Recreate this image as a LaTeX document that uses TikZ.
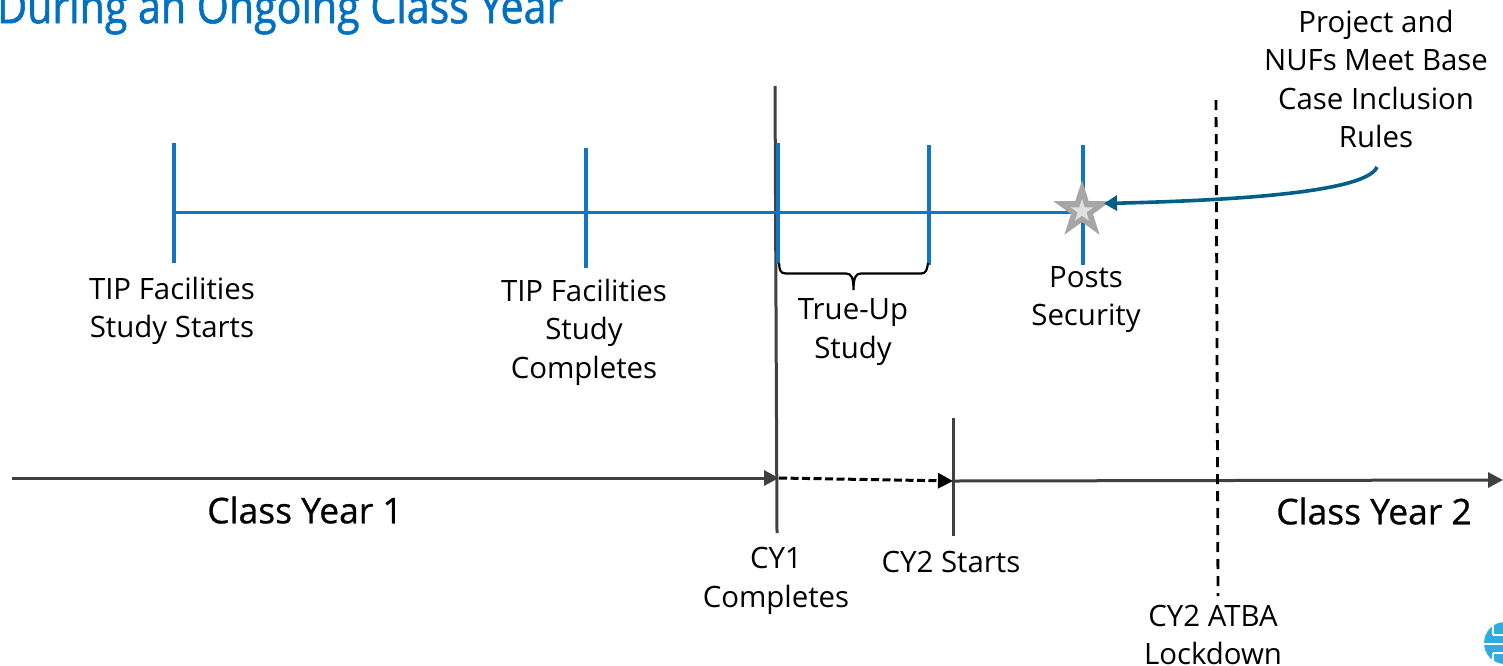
\documentclass[tikz,border=0pt]{standalone}
\usepackage{fontspec}
\setmainfont{Open Sans}
\newfontfamily\titlefont[FakeStretch=0.875,RawFeature={embolden=1.2}]{Open Sans}
\newfontfamily\bigfont[RawFeature={embolden=0.7}]{Open Sans}
\usetikzlibrary{arrows.meta,shapes.geometric}
\definecolor{tlblue}{HTML}{0F75C4}
\definecolor{titleblue}{HTML}{0070C0}
\definecolor{axisgray}{HTML}{404040}
\definecolor{teal}{HTML}{005F86}
\definecolor{logoblue}{HTML}{2FADE0}
\tikzset{
  x=1pt,y=-1pt,
  lbl/.style={align=center,font=\fontsize{29.4}{38.5}\selectfont,text=black,inner sep=0pt},
  bigl/.style={font=\bigfont\fontsize{35.4}{40}\selectfont,text=black,inner sep=0pt,anchor=center},
  tick/.style={draw=tlblue,line width=3.8pt},
  tline/.style={draw=tlblue,line width=3pt},
  axis/.style={draw=axisgray,line width=3pt},
  axtip/.style={-{Triangle[length=15pt,width=15pt]}},
}
\begin{document}
\begin{tikzpicture}
\useasboundingbox (0,0) rectangle (1503,665);
\clip (0,0) rectangle (1503,665);
\fill[white] (0,0) rectangle (1503,665);
% title
\node[anchor=west,inner sep=0pt,text=titleblue,font=\titlefont\fontsize{47}{50}\selectfont] (title) at (-3,11) {During an Ongoing Class Year};
% logo
\fill[logoblue] (1505,643) circle (21);
\draw[white,line width=1.6pt] (1484,644) -- (1503,644) (1493,635) -- (1503,635) (1493,635) -- (1493,622) (1493,653) -- (1503,653) (1493,653) -- (1493,664);
% coordinates
\coordinate (a1) at (174,143); \coordinate (a2) at (174,263);
\coordinate (b1) at (586,148); \coordinate (b2) at (586,268);
\coordinate (c1) at (778,143); \coordinate (c2) at (778,264);
\coordinate (d1) at (929,145); \coordinate (d2) at (929,265);
\coordinate (e1) at (1083,145); \coordinate (e2) at (1083,265);
\coordinate (tlS) at (174,212); \coordinate (tlE) at (1083,212);
\coordinate (v1a) at (775,86); \coordinate (v1b) at (777,533);
\coordinate (v2a) at (953,418); \coordinate (v2b) at (953,536);
\coordinate (ax1s) at (12,478); \coordinate (ax1e) at (779,478);
\coordinate (ax2s) at (953,481); \coordinate (ax2e) at (1503,480);
\coordinate (dash1) at (779,478); \coordinate (dash2) at (953,481);
\coordinate (lock1) at (1216,100); \coordinate (lock2) at (1218,596);
% axis verticals
\draw[axis] (v1a) -- (v1b);
\draw[axis] (v2a) -- (v2b);
% timeline
\draw[tline] (tlS) -- (tlE);
\draw[tick] (a1) -- (a2);
\draw[tick] (b1) -- (b2);
\draw[tick] (c1) -- (c2);
\draw[tick] (d1) -- (d2);
\draw[tick] (e1) -- (e2);
% axes
\draw[axis,axtip] (ax1s) -- (ax1e);
\draw[axis,axtip] (ax2s) -- (ax2e);
\draw[black,line width=3pt,dash pattern=on 8pt off 3.5pt,axtip] (dash1) -- (dash2);
% lockdown
\draw[black,line width=2.8pt,dash pattern=on 10pt off 7pt] (lock1) -- (lock2);
% brace
\coordinate (br1) at (779,263); \coordinate (br2) at (928,263);
\coordinate (brm) at (853.5,290);
\draw[black,line width=2.2pt,line join=round] (br1) .. controls (779.5,270) and (780,273.5) .. (786,273.5) -- (846,273.5) .. controls (851,273.5) and (853.5,277) .. (brm) (brm) ..controls (853.5,277) and (856,273.5) .. (861,273.5) -- (921,273.5) .. controls (926,273.5) and (927,270) .. (br2);
% star
\node[star,star points=5,star point ratio=2.6,fill=black!35,draw=none,minimum size=60pt,inner sep=0pt] (star) at (1082,210.5) {};
\node[star,star points=5,star point ratio=2.6,fill=black!12,draw=none,minimum size=24pt,inner sep=0pt] (starin) at (1082,211) {};
% teal arrow
\coordinate (arrS) at (1377,167);
\coordinate (arrE) at (1104,203.5);
\draw[teal,line width=3.6pt,-{Triangle[length=13pt,width=15pt]}] (arrS) .. controls (1365,195) and (1205,201) .. (arrE);
% labels
\node[lbl] (l1) at (172,311) {TIP Facilities\\Study Starts};
\node[lbl] (l2) at (584,332) {TIP Facilities\\Study\\Completes};
\node[lbl] (l3) at (853,332) {True-Up\\Study};
\node[lbl] (l4) at (1086,299.5) {Posts\\Security};
\node[lbl] (l5) at (1376,79) {Project and\\NUFs Meet Base\\Case Inclusion\\Rules};
\node[lbl] (l6) at (776,581) {CY1\\Completes};
\node[lbl] (l7) at (951,562) {CY2 Starts};
\node[lbl] (l8) at (1213,635) {CY2 ATBA\\Lockdown};
\node[bigl] (c1l) at (305,510) {Class Year 1};
\node[bigl] (c2l) at (1374,511) {Class Year 2};
\end{tikzpicture}
\end{document}
